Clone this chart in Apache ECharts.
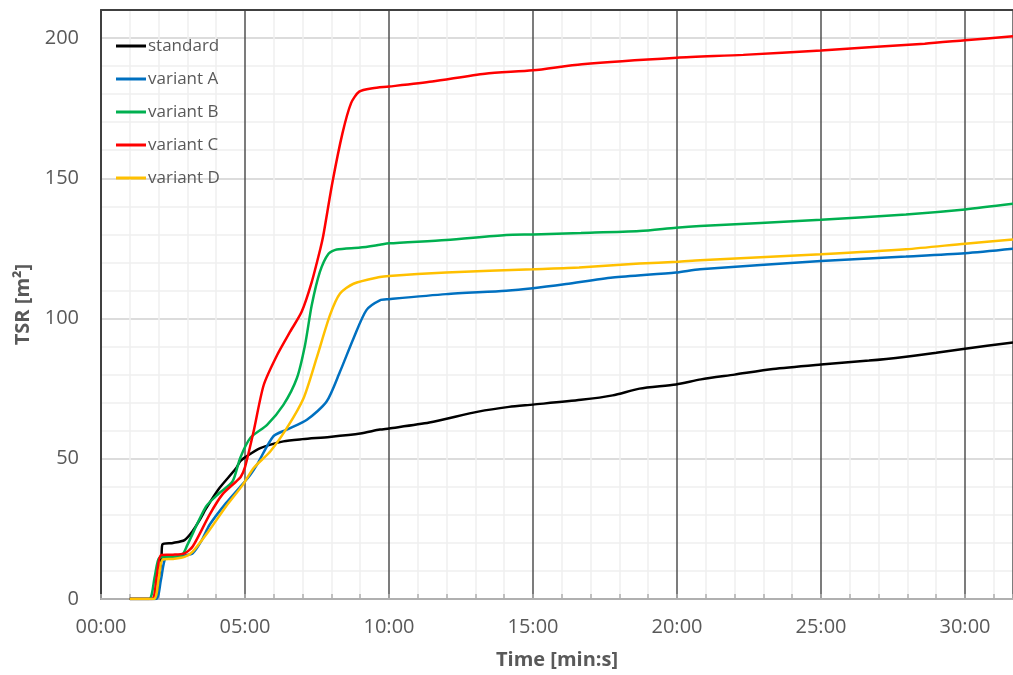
<!DOCTYPE html>
<html>
<head>
<meta charset="utf-8">
<script src="https://cdn.jsdelivr.net/npm/echarts@6/dist/echarts.min.js"></script>
<style>html,body{margin:0;padding:0;background:#fff}#c{width:1013px;height:675px}</style>
</head>
<body>
<div id="c"></div>
<script>
// time in seconds, value in m²
const seriesNames = ['standard', 'variant A', 'variant B', 'variant C', 'variant D'];
const standard = [[60,0],[112,0],[121,8],[126,15],[128,19.5],[150,20],[174,21],[190,24],[205,28],[219,32.3],[246,39.4],[281,46.5],[290,49.1],[300,50.5],[332,53.8],[380,56.2],[420,57],[476,57.8],[540,59],[581,60.4],[600,60.8],[684,62.9],[786,66.8],[850,68.5],[900,69.3],[1000,71],[1066,72.6],[1122,75],[1198,76.5],[1250,78.3],[1320,80],[1400,82],[1500,83.6],[1600,85],[1677,86.4],[1740,87.8],[1800,89.2],[1900,91.5]];
const variantA = [[60,0],[114,0],[125,7],[134,14.5],[150,15],[174,15.5],[191,16.3],[210,21],[226,26.4],[260,34.1],[295,41],[310,44],[325,47.9],[359,58],[387,60.4],[429,63.9],[470,70.4],[498,81.1],[526,92.9],[553,103],[581,106.5],[600,106.9],[719,108.7],[844,109.9],[900,110.8],[969,112.3],[1066,114.6],[1198,116.4],[1248,117.6],[1500,120.5],[1677,122.1],[1800,123.3],[1900,124.9]];
const variantB = [[60,0],[100,0],[112,8],[121,14.6],[140,15],[168,15.5],[180,19.3],[219,33],[246,37.7],[274,41.9],[290,50.3],[311,57.4],[346,62.1],[380,69.2],[408,78.7],[425,90.5],[439,104.7],[456,116.6],[474,123.1],[491,124.6],[540,125.3],[581,126.3],[600,126.8],[719,128],[844,129.8],[900,130],[1000,130.5],[1122,131.2],[1198,132.4],[1248,133],[1500,135.2],[1677,137.1],[1800,138.9],[1900,140.9]];
const variantC = [[60,0],[106,0],[116,8],[125,15.7],[150,15.8],[174,16.3],[191,18.7],[226,30],[253,37.3],[281,41.8],[291,43.5],[300,47],[318,59.8],[339,76.3],[367,87],[394,95.3],[418,102.4],[439,113],[457,124.9],[463,129.5],[482,148.4],[503,166],[521,176.8],[538,180.9],[566,182.1],[600,182.7],[690,184.5],[800,187.3],[900,188.5],[1002,190.7],[1200,193],[1338,194],[1500,195.6],[1716,198],[1800,199.2],[1900,200.6]];
const variantD = [[60,0],[110,0],[120,7],[128,14],[150,14.3],[174,15],[191,16.9],[226,24.6],[260,32.9],[295,40.6],[318,46.7],[353,52.7],[387,60.9],[422,71.6],[449,85.8],[477,101.2],[498,108.9],[526,112.4],[581,114.8],[600,115.2],[719,116.4],[900,117.6],[996,118.2],[1122,119.6],[1200,120.2],[1248,120.8],[1500,122.9],[1677,124.7],[1800,126.7],[1900,128.2]];
const seriesData = [standard, variantA, variantB, variantC, variantD];
const colors = ['#000000', '#0070C0', '#00B050', '#FF0000', '#FFC000'];

function fmt(v) {
  const m = Math.floor(v / 60), s = Math.round(v % 60);
  return String(m).padStart(2, '0') + ':' + String(s).padStart(2, '0');
}

const chart = echarts.init(document.getElementById('c'), null, {renderer: 'canvas'});
const FONT = 'Open Sans';
chart.setOption({
  animation: false,
  textStyle: {fontFamily: FONT},
  grid: {left: 101, top: 10, right: 0, bottom: 74, containLabel: false},
  legend: {
    orient: 'vertical', left: 111, top: 31,
    icon: 'rect', itemWidth: 30, itemHeight: 3, itemGap: 13,
    textStyle: {fontFamily: FONT, fontSize: 17, color: '#595959', lineHeight: 20, padding: [0, 0, 0, -3]},
    data: seriesNames
  },
  xAxis: [{
    type: 'value', min: 0, max: 1900, interval: 300,
    name: 'Time [min:s]', nameLocation: 'middle', nameGap: 51,
    nameTextStyle: {fontFamily: FONT, fontSize: 20, fontWeight: 'bold', color: '#595959'},
    axisLine: {show: true, onZero: false, lineStyle: {color: '#b0b0b0', width: 2}},
    axisTick: {show: true, inside: true, length: 5, lineStyle: {color: '#b0b0b0', width: 1.5}},
    minorTick: {show: true, splitNumber: 5, length: 5, lineStyle: {color: '#b0b0b0', width: 1.5}},
    axisLabel: {formatter: fmt, fontFamily: FONT, fontSize: 20, color: '#595959', margin: 18, showMaxLabel: false},
    splitLine: {show: true, lineStyle: {color: '#505050', width: 1.5}},
    minorSplitLine: {show: true, lineStyle: {color: '#efefef', width: 1.5}}
  }, {
    type: 'value', min: 0, max: 1900, position: 'top',
    axisLine: {show: true, onZero: false, lineStyle: {color: '#404040', width: 2}},
    axisTick: {show: false}, axisLabel: {show: false}, splitLine: {show: false}
  }],
  yAxis: {
    type: 'value', min: 0, max: 210, interval: 50,
    name: 'TSR [m²]', nameLocation: 'middle', nameGap: 68, nameRotate: 90,
    nameTextStyle: {fontFamily: FONT, fontSize: 20, fontWeight: 'bold', color: '#595959'},
    axisLine: {show: true, onZero: false, lineStyle: {color: '#404040', width: 2}},
    axisTick: {show: false},
    minorTick: {show: false, splitNumber: 5},
    axisLabel: {fontFamily: FONT, fontSize: 20, color: '#595959', margin: 22, showMaxLabel: false},
    splitLine: {show: true, lineStyle: {color: '#dcdcdc', width: 2}},
    minorSplitLine: {show: true, lineStyle: {color: '#efefef', width: 1.5}}
  },
  series: seriesNames.map((n, i) => ({
    name: n, type: 'line', xAxisIndex: 0, data: seriesData[i],
    symbol: 'none', smooth: 0.25,
    lineStyle: {color: colors[i], width: 2.5},
    itemStyle: {color: colors[i]}
  }))
});
</script>
</body>
</html>
